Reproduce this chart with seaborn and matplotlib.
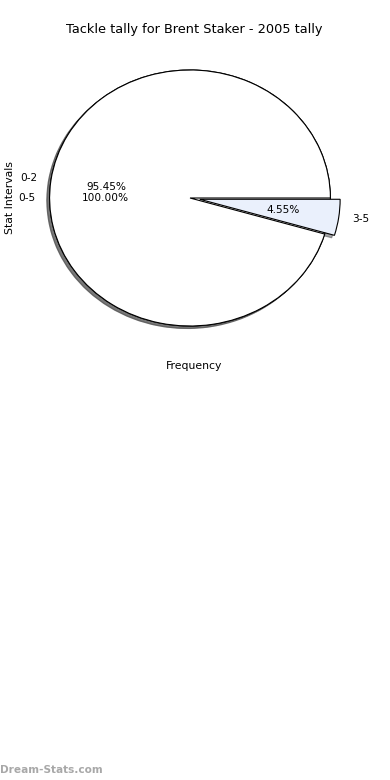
import matplotlib
matplotlib.use("Agg")
import matplotlib.pyplot as plt
import seaborn as sns

sns.set_style("white")
plt.rcParams['font.family'] = ['DejaVu Sans']
plt.rcParams['text.color'] = 'black'

# Data
interval_labels = ['3-5', '0-2']
interval_counts = [1, 21]
interval_colors = ['#eaf0fc', '#ffffff']
interval_explode = [0.07, 0.0]

total_labels = ['0-5']
total_counts = [22]
total_colors = ['#ffffff']

title = "Tackle tally for Brent Staker - 2005 tally"

fig = plt.figure(figsize=(3.9, 7.8), dpi=100)
ax = fig.add_axes([14.5 / 390, 1 - 358 / 780, 351 / 390, 320 / 780])

wp = dict(edgecolor='black', linewidth=0.8)
sh = dict(ox=-0.014, oy=-0.014)
tp = dict(fontsize=7.6, color='black')
ax.pie(total_counts, labels=total_labels, colors=total_colors,
       autopct='%.2f%%', shadow=sh, startangle=0, counterclock=False,
       wedgeprops=wp, textprops=tp)
ax.pie(interval_counts, labels=interval_labels, colors=interval_colors,
       explode=interval_explode, autopct='%.2f%%', shadow=sh,
       startangle=0, counterclock=False, wedgeprops=wp, textprops=tp)

ax.set_aspect('auto')
ax.set_xlim(-1.25, 1.25)
ax.set_ylim(-1.25, 1.25)

fig.text(194 / 390, 1 - 30 / 780, title, ha='center', va='center',
         fontsize=9.3, color='black')
fig.text(194 / 390, 1 - 366 / 780, "Frequency", ha='center', va='center',
         fontsize=7.8, color='black')
fig.text(10 / 390, 1 - 198 / 780, "Stat Intervals", ha='center', va='center',
         rotation=90, fontsize=7.8, color='black')
fig.text(0.0, 1 - 770 / 780, "Dream-Stats.com", ha='left', va='center',
         fontsize=7.6, fontweight='bold', color='#999999', alpha=0.85)

fig.savefig("out.png", dpi=100)
